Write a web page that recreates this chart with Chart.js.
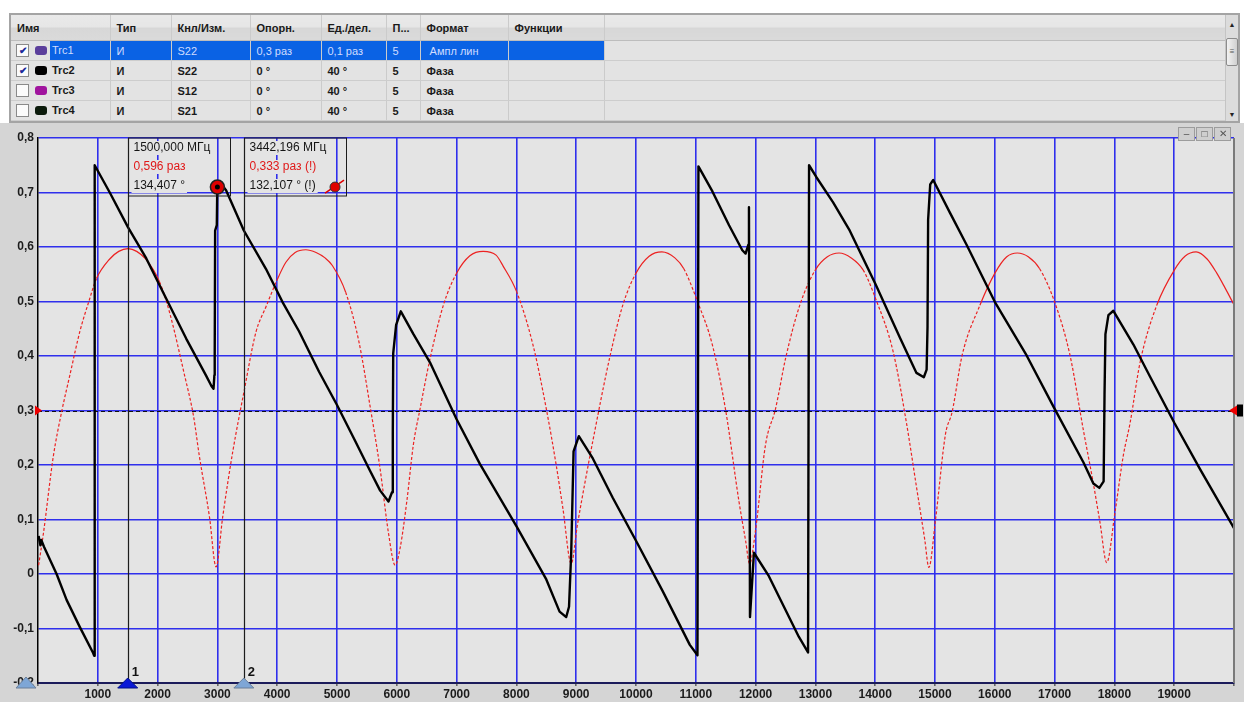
<!DOCTYPE html>
<html>
<head>
<meta charset="utf-8">
<script src="https://cdn.jsdelivr.net/npm/chart.js@4.4.0/dist/chart.umd.min.js"></script>
<style>
body{margin:0;width:1244px;height:702px;background:#fff;position:relative;overflow:hidden;font-family:"Liberation Sans",Arial,sans-serif;}
#trc{position:absolute;left:9px;top:13px;width:1231px;height:110px;border:2px solid #a4a4a4;box-sizing:border-box;background:#e3e3e3;}
#trc table{position:absolute;left:0;top:0;border-collapse:collapse;table-layout:fixed;width:1216px;font-size:11px;font-weight:bold;color:#1a1a1a;}
#trc td{padding:0 0 0 6px;border-right:1px solid #cbcbcb;border-bottom:1px solid #cdcdcd;white-space:nowrap;overflow:hidden;height:19px;}
#trc tr.hd td{height:25px;background:linear-gradient(#e9e9e9 0,#e6e6e6 48%,#d7d7d7 52%,#dadada 100%);border-bottom:1px solid #bdbdbd;}
#trc tr.sel td.hl{background:#0a62e4;color:#cfdcff;font-weight:normal;}
#trc td.c0{padding:0;position:relative;}
.cb{position:absolute;left:5px;top:3px;width:11px;height:11px;border:1px solid #8a8a8a;background:#fbfbfb;font-size:10px;line-height:11px;text-align:center;color:#1b2a9a;}
.sw{position:absolute;left:24px;top:5px;width:12px;height:9px;border-radius:3px;}
.nm{position:absolute;left:39px;top:0;right:0;height:19px;line-height:19px;padding-left:2px;}
.sel .nm{background:#0a62e4;color:#cfdcff;font-weight:normal;}
#sb{position:absolute;right:0;top:0;width:12px;height:106px;background:#dcdcdc;border-left:1px solid #c4c4c4;}
#sb .up,#sb .dn{position:absolute;left:0;width:12px;font-size:7px;text-align:center;color:#222;}
#sb .up{top:6px;} #sb .dn{bottom:3px;}
#sb .th{position:absolute;left:0;top:23px;width:10px;height:26px;border:1px solid #8c8c8c;border-radius:2px;background:linear-gradient(90deg,#f2f2f2,#d0d0d0);font-size:8px;line-height:26px;text-align:center;color:#555;}
#panel{position:absolute;left:0;top:123px;width:1244px;height:579px;background:#d5d5d5;}
#cv{position:absolute;left:0;top:2px;}
#wb{position:absolute;left:1178px;top:4px;height:13px;display:flex;}
#wb div{width:15px;height:12px;border:1px solid #9c9c9c;background:#cfcfcf;margin-right:1px;font-size:10px;line-height:11px;text-align:center;color:#555;}
</style>
</head>
<body>
<div id="trc">
  <table id="tbl"></table>
  <div id="sb"><div class="up">&#9650;</div><div class="th">&#8801;</div><div class="dn">&#9660;</div></div>
</div>
<div id="panel">
  <canvas id="cv" width="1244" height="577"></canvas>
  <div id="wb"><div>&#8211;</div><div>&#9633;</div><div>&#10005;</div></div>
</div>
<script>
// trace table
const colWidths = [99, 61, 79, 71, 65, 34, 88, 96, 623];
const headers = ['Имя', 'Тип', 'Кнл/Изм.', 'Опорн.', 'Ед./дел.', 'П...', 'Формат', 'Функции', ''];
const traceNames = ['Trc1', 'Trc2', 'Trc3', 'Trc4'];
const traceChecked = [true, true, false, false];
const traceColors = ['#5b3f9c', '#000000', '#a0149e', '#0b1a0b'];
const traceType = ['И', 'И', 'И', 'И'];
const traceMeas = ['S22', 'S22', 'S12', 'S21'];
const traceRef = ['0,3 раз', '0 °', '0 °', '0 °'];
const traceScale = ['0,1 раз', '40 °', '40 °', '40 °'];
const tracePos = ['5', '5', '5', '5'];
const traceFormat = ['Ампл лин', 'Фаза', 'Фаза', 'Фаза'];

// Trc1: |S22| linear (MHz, раз)
const ampFreq = [10, 90, 255, 400, 533, 700, 850, 978, 1200, 1350, 1506, 1650, 1800, 2033, 2200, 2450, 2600, 2700, 2867, 2978,
    3089, 3256, 3442, 3645, 3811, 4000, 4145, 4300, 4478, 4650, 4800, 4922, 5145, 5367, 5550, 5722, 5861, 5972,
    6056, 6167, 6278, 6389, 6556, 6778, 7000, 7222, 7444, 7660, 7778, 8000, 8278, 8500, 8667, 8778, 8917,
    9020, 9150, 9278, 9556, 9778, 10000, 10220, 10433, 10650, 10800, 11028, 11278, 11500, 11722, 11833, 11900,
    12000, 12167, 12333, 12500, 12738, 13000, 13200, 13396, 13600, 13798, 14004, 14300, 14523, 14690, 14830, 14897,
    15009, 15176, 15286, 15453, 15751, 16002, 16200, 16376, 16560, 16750, 17001, 17258, 17481, 17648, 17760, 17871,
    18011, 18150, 18262, 18429, 18708, 19004, 19180, 19366, 19550, 19712, 19850, 20000];
const ampVal = [0.016, 0.074, 0.215, 0.30, 0.365, 0.445, 0.50, 0.542, 0.578, 0.592, 0.597, 0.592, 0.578, 0.536, 0.48, 0.365, 0.29, 0.215, 0.105, 0.013,
    0.105, 0.224, 0.333, 0.444, 0.49, 0.54, 0.572, 0.59, 0.595, 0.59, 0.58, 0.566, 0.517, 0.426, 0.31, 0.192, 0.075, 0.016,
    0.048, 0.133, 0.238, 0.303, 0.395, 0.493, 0.552, 0.584, 0.592, 0.585, 0.565, 0.519, 0.42, 0.303, 0.199, 0.12, 0.019,
    0.09, 0.17, 0.244, 0.395, 0.493, 0.552, 0.583, 0.591, 0.58, 0.56, 0.50, 0.42, 0.30, 0.133, 0.061, 0.019,
    0.081, 0.238, 0.303, 0.395, 0.493, 0.558, 0.582, 0.589, 0.58, 0.558, 0.506, 0.408, 0.277, 0.16, 0.062, 0.012,
    0.10, 0.257, 0.297, 0.401, 0.493, 0.552, 0.582, 0.589, 0.582, 0.56, 0.499, 0.401, 0.264, 0.166, 0.094, 0.021,
    0.114, 0.218, 0.277, 0.388, 0.493, 0.558, 0.583, 0.591, 0.578, 0.552, 0.525, 0.494];

// Trc2: S22 phase (MHz, degrees), ref 0° at 0,3, 40°/div
const phFreq = [10, 40, 55, 100, 311, 478, 700, 922, 940, 948, 1200, 1506, 1811, 2145, 2478, 2811, 2900, 2935, 2950, 2955, 2962, 2990, 2998, 3030,
    3145, 3442, 3811, 4089, 4367, 4700, 5000, 5300, 5550, 5722, 5861, 5920, 5933, 5940, 5989, 6067,
    6278, 6556, 7000, 7389, 8000, 8500, 8722, 8833, 8880, 8917, 8956, 9044,
    9278, 9611, 10000, 10444, 10900, 11028, 11044, 11278, 11556, 11778, 11833, 11878, 11889, 11906, 11972,
    12222, 12722, 12877, 12894, 13017, 13296, 13575, 14004, 14412, 14690, 14813, 14860, 14875, 14885, 14920, 14970,
    15249, 15528, 16002, 16532, 17001, 17481, 17648, 17748, 17820, 17835, 17850, 17900, 17983,
    18318, 18597, 19004, 19434, 20000];
const phDeg = [-92, -99, -95, -100, -120, -139, -159, -178, -180, 180, 160, 134.4, 111.6, 82, 52.8, 25.6, 18, 16, 26, 40, 132, 136, 164, 168,
    161.6, 132.1, 104, 79.6, 58, 28.4, 4, -22, -44, -58.8, -66.8, -60, -16, 42, 62.8, 72.8,
    56, 35.2, -6.4, -39.2, -84.8, -124, -147.6, -151.6, -144, -104, -30, -18.8,
    -35.2, -64, -95.6, -132.4, -172, -179.6, 179.2, 160.8, 136, 117.6, 115.2, 121.6, 149.2, -151.6, -104.4,
    -121.6, -166, -177.6, 180, 171.2, 152.8, 132, 92.8, 53.6, 27.6, 24.4, 30, 61.6, 140, 166, 169.2,
    145.2, 121.6, 79.6, 40.4, 1.2, -38, -53.6, -56.8, -52, 12, 56, 70, 73.2,
    48.4, 24.8, -9.2, -43.2, -86.4];
const phRefPos = 0.3, phDegPerUnit = 400;

// markers
const markerFreq = [1500, 3442.196];
const markerLine1 = ['1500,000 МГц', '3442,196 МГц'];
const markerLine2 = ['0,596 раз', '0,333 раз (!)'];
const markerLine3 = ['134,407 °', '132,107 ° (!)'];
const markerFill = ['#0a18d6', '#7ea6d6'];
const symbolFreq = [3000, 4967];
const symbolVal = [0.71, 0.71];

const xTickStep = 1000, yTickStep = 0.1;

let rows = '<colgroup>' + colWidths.map(w => '<col style="width:' + w + 'px">').join('') + '</colgroup>';
rows += '<tr class="hd">' + headers.map(h => '<td>' + h + '</td>').join('') + '</tr>';
for (let i = 0; i < traceNames.length; i++) {
    const sel = i === 0;
    const hl = sel ? ' class="hl"' : '';
    rows += '<tr' + (sel ? ' class="sel"' : '') + '>' +
        '<td class="c0"><span class="cb">' + (traceChecked[i] ? '&#10004;' : '') + '</span>' +
        '<span class="sw" style="background:' + traceColors[i] + '"></span><span class="nm">' + traceNames[i] + '</span></td>' +
        '<td' + hl + '>' + traceType[i] + '</td><td' + hl + '>' + traceMeas[i] + '</td><td' + hl + '>' + traceRef[i] + '</td>' +
        '<td' + hl + '>' + traceScale[i] + '</td><td' + hl + '>' + tracePos[i] + '</td>' +
        '<td' + hl + '>' + (sel ? '&nbsp;' : '') + traceFormat[i] + '</td><td' + hl + '></td><td></td></tr>';
}
document.getElementById('tbl').innerHTML = rows;

const ampData = ampFreq.map((f, i) => ({x: f, y: ampVal[i]}));
const phData = phFreq.map((f, i) => ({x: f, y: phRefPos + phDeg[i] / phDegPerUnit}));

function fmtY(v) {
    const r = Math.round(v * 10) / 10;
    return r === 0 ? '0' : r.toFixed(1).replace('.', ',');
}

function tri(ctx, pts, fill, stroke) {
    ctx.beginPath();
    ctx.moveTo(pts[0], pts[1]);
    ctx.lineTo(pts[2], pts[3]);
    ctx.lineTo(pts[4], pts[5]);
    ctx.closePath();
    ctx.fillStyle = fill;
    ctx.fill();
    if (stroke) { ctx.strokeStyle = stroke; ctx.lineWidth = 1; ctx.stroke(); }
}

const vnaPlugin = {
    id: 'vna',
    beforeDraw(chart) {
        const a = chart.chartArea, ctx = chart.ctx;
        ctx.save();
        ctx.fillStyle = '#e4e4e4';
        ctx.fillRect(a.left, a.top, a.right - a.left, a.bottom - a.top);
        ctx.restore();
    },
    beforeDatasetsDraw(chart) {
        const a = chart.chartArea, ctx = chart.ctx, ys = chart.scales.y;
        const yr = Math.round(ys.getPixelForValue(phRefPos)) + 0.5;
        ctx.save();
        ctx.strokeStyle = '#111';
        ctx.lineWidth = 1;
        ctx.setLineDash([4, 3]);
        ctx.beginPath();
        ctx.moveTo(a.left, yr);
        ctx.lineTo(a.right, yr);
        ctx.stroke();
        ctx.restore();
    },
    afterDatasetsDraw(chart) {
        const a = chart.chartArea, ctx = chart.ctx, xs = chart.scales.x, ys = chart.scales.y;
        ctx.save();
        // right frame
        ctx.strokeStyle = '#7a7a7a';
        ctx.lineWidth = 2;
        ctx.beginPath();
        ctx.moveTo(a.right, a.top);
        ctx.lineTo(a.right, a.bottom);
        ctx.stroke();

        // marker lines and readouts
        ctx.font = '12px "Liberation Sans", Arial, sans-serif';
        ctx.textBaseline = 'middle';
        markerFreq.forEach((f, i) => {
            const mx = Math.round(xs.getPixelForValue(f)) + 0.5;
            ctx.strokeStyle = '#1c1c1c';
            ctx.lineWidth = 1.2;
            ctx.beginPath();
            ctx.moveTo(mx, a.top);
            ctx.lineTo(mx, a.bottom);
            ctx.stroke();
            const bw = 102, bh = 58;
            ctx.lineWidth = 1;
            ctx.strokeRect(mx, a.top, bw, bh);
            const lines = [markerLine1[i], markerLine2[i], markerLine3[i]];
            const cols = ['#151515', '#e01818', '#151515'];
            const ly = [10, 29, 48];
            lines.forEach((t, k) => {
                const w = ctx.measureText(t).width;
                ctx.fillStyle = '#e4e4e4';
                ctx.fillRect(mx + 3, a.top + ly[k] - 7, w + 4, 14);
                ctx.fillStyle = cols[k];
                ctx.fillText(t, mx + 5, a.top + ly[k]);
            });
        });

        // marker symbols in the readouts
        const s1x = xs.getPixelForValue(symbolFreq[0]), s1y = ys.getPixelForValue(symbolVal[0]);
        ctx.beginPath();
        ctx.arc(s1x, s1y, 7, 0, Math.PI * 2);
        ctx.fillStyle = '#e00000';
        ctx.fill();
        ctx.strokeStyle = '#222';
        ctx.lineWidth = 1.5;
        ctx.stroke();
        ctx.beginPath();
        ctx.arc(s1x, s1y, 2.5, 0, Math.PI * 2);
        ctx.fillStyle = '#000';
        ctx.fill();
        const s2x = xs.getPixelForValue(symbolFreq[1]), s2y = ys.getPixelForValue(symbolVal[1]);
        ctx.strokeStyle = '#e00000';
        ctx.lineWidth = 1.5;
        ctx.beginPath();
        ctx.moveTo(s2x - 10, s2y + 6);
        ctx.lineTo(s2x + 9, s2y - 7);
        ctx.stroke();
        ctx.beginPath();
        ctx.arc(s2x, s2y, 5, 0, Math.PI * 2);
        ctx.fillStyle = '#e00000';
        ctx.fill();
        ctx.strokeStyle = '#333';
        ctx.lineWidth = 1;
        ctx.stroke();

        // bottom marker triangles
        const b = a.bottom;
        tri(ctx, [a.left - 22, b + 5, a.left - 12, b - 6, a.left - 2, b + 5], '#7ea6d6', '#6a7f99');
        markerFreq.forEach((f, i) => {
            const mx = xs.getPixelForValue(f);
            tri(ctx, [mx - 10, b + 5, mx, b - 5, mx + 10, b + 5], markerFill[i], i === 0 ? '#00108a' : '#6a7f99');
            ctx.fillStyle = '#111';
            ctx.font = 'bold 13px "Liberation Sans", Arial, sans-serif';
            ctx.textBaseline = 'alphabetic';
            ctx.fillText(String(i + 1), mx + 4, b - 7);
        });

        // reference position arrows
        const yr = ys.getPixelForValue(phRefPos);
        tri(ctx, [a.left - 3, yr - 5, a.left + 4, yr, a.left - 3, yr + 5], '#ee0000');
        tri(ctx, [a.right + 3, yr - 5, a.right - 5, yr, a.right + 3, yr + 5], '#ee0000');
        ctx.fillStyle = '#000';
        ctx.fillRect(a.right + 3, yr - 6, 6, 12);
        ctx.restore();
    }
};

new Chart(document.getElementById('cv'), {
    type: 'line',
    data: {
        datasets: [{
            label: 'Trc2',
            data: phData,
            borderColor: '#000',
            borderWidth: 2.4,
            pointRadius: 0,
            tension: 0,
            borderJoinStyle: 'round'
        }, {
            label: 'Trc1',
            data: ampData,
            borderColor: 'rgb(236,34,34)',
            borderWidth: 1.2,
            pointRadius: 0,
            cubicInterpolationMode: 'monotone',
            segment: {
                borderDash: c => Math.abs(c.p1.y - c.p0.y) > 2.2 * Math.abs(c.p1.x - c.p0.x) ? [3, 2] : undefined
            }
        }]
    },
    options: {
        responsive: false,
        devicePixelRatio: 1,
        animation: false,
        layout: {padding: {top: 13, right: 10, left: 0, bottom: 0}},
        plugins: {legend: {display: false}, tooltip: {enabled: false}},
        scales: {
            x: {
                type: 'linear',
                min: 0,
                max: 20000,
                afterFit: s => { s.height = 19; },
                afterBuildTicks: s => { s.ticks = []; for (let v = 0; v <= 20000; v += xTickStep) s.ticks.push({value: v}); },
                ticks: {
                    autoSkip: false,
                    maxRotation: 0,
                    padding: 1,
                    color: '#1c1c1c',
                    font: {family: '"Liberation Sans", Arial, sans-serif', size: 12, weight: 'bold'},
                    callback: v => (v === 0 || v === 20000) ? '' : String(v)
                },
                grid: {
                    color: c => (c.tick && (c.tick.value === 0 || c.tick.value === 20000)) ? 'rgba(0,0,0,0)' : '#2f2fec',
                    lineWidth: 1.6,
                    tickColor: '#666',
                    tickLength: 3
                },
                border: {color: '#1b1b5a', width: 2}
            },
            y: {
                min: -0.2,
                max: 0.8,
                afterFit: s => { s.width = 38; },
                afterBuildTicks: s => { s.ticks = []; for (let k = -2; k <= 8; k++) s.ticks.push({value: k * yTickStep}); },
                ticks: {
                    padding: 4,
                    color: '#1c1c1c',
                    font: {family: '"Liberation Sans", Arial, sans-serif', size: 12, weight: 'bold'},
                    callback: v => fmtY(v)
                },
                grid: {color: '#2f2fec', lineWidth: 1.6, drawTicks: false},
                border: {color: '#000', width: 1.5}
            }
        }
    },
    plugins: [vnaPlugin]
});
</script>
</body>
</html>
